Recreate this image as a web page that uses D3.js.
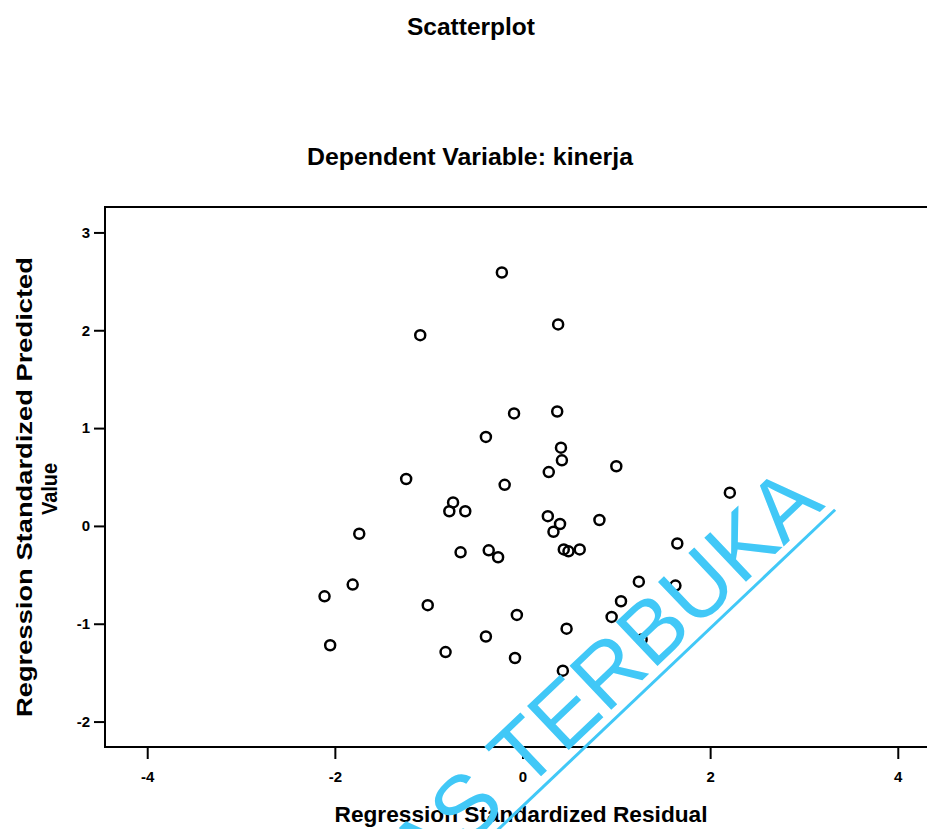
<!DOCTYPE html>
<html>
<head>
<meta charset="utf-8">
<script src="https://cdn.jsdelivr.net/npm/d3@7"></script>
<style>
  body { margin: 0; background: #fff; }
  svg { display: block; font-family: "Liberation Sans", Arial, sans-serif; }
</style>
</head>
<body>
<div id="main"></div>
<script>
// regression standardized residual (x) / standardized predicted value (y)
const residual = [-0.22, 0.38, -1.09, -0.09, 0.37, -0.39, 0.41, 0.42, 1.00, 0.28,
  -1.24, -0.19, -0.74, -0.78, -0.61, 0.27, 0.40, 0.33, 0.82, -1.74,
  -0.66, -0.36, -0.26, 0.44, 0.49, 0.61, -1.81, -2.11, -1.01, -0.06,
  0.47, -0.39, -0.82, -2.05, -0.08, 0.43, 1.05, 0.95, 2.21, 1.65,
  1.24, 1.63, 1.27];
const predicted = [2.59, 2.06, 1.95, 1.15, 1.17, 0.91, 0.80, 0.67, 0.61, 0.55,
  0.48, 0.42, 0.24, 0.15, 0.15, 0.10, 0.02, -0.06, 0.06, -0.08,
  -0.27, -0.25, -0.32, -0.24, -0.26, -0.24, -0.60, -0.72, -0.81, -0.91,
  -1.05, -1.13, -1.29, -1.22, -1.35, -1.48, -0.77, -0.93, 0.34, -0.18,
  -0.57, -0.61, -1.16];
const xTicks = [-4, -2, 0, 2, 4];
const yTicks = [-2, -1, 0, 1, 2, 3];

const title = "Scatterplot";
const subtitle = "Dependent Variable: kinerja";
const xLabel = "Regression Standardized Residual";
const yLabel = ["Regression Standardized Predicted", "Value"];
const watermark = "UNIVERSITAS TERBUKA";

const width = 927;
const height = 829;
const plotLeft = 105, plotRight = 940, plotTop = 207, plotBottom = 747;

const data = residual.map((r, i) => ({ x: r, y: predicted[i] }));

const xScale = d3.scaleLinear().domain([-4.45, 4.45]).range([plotLeft, plotRight]);
const yScale = d3.scaleLinear().domain([-2.26, 3.26]).range([plotBottom, plotTop]);

const svg = d3.select("#main")
  .append("svg")
  .attr("width", width)
  .attr("height", height);

// titles
svg.append("text")
  .attr("x", 471).attr("y", 35)
  .attr("text-anchor", "middle")
  .attr("font-size", 24).attr("font-weight", "bold")
  .attr("textLength", 128).attr("lengthAdjust", "spacingAndGlyphs")
  .text(title);

svg.append("text")
  .attr("x", 470).attr("y", 165)
  .attr("text-anchor", "middle")
  .attr("font-size", 24).attr("font-weight", "bold")
  .attr("textLength", 326).attr("lengthAdjust", "spacingAndGlyphs")
  .text(subtitle);

// frame
svg.append("rect")
  .attr("x", plotLeft).attr("y", plotTop)
  .attr("width", plotRight - plotLeft).attr("height", plotBottom - plotTop)
  .attr("fill", "none").attr("stroke", "#000").attr("stroke-width", 2);

const xAxis = d3.axisBottom(xScale)
  .tickValues(xTicks)
  .tickSize(12)
  .tickPadding(12)
  .tickFormat(d => String(d));

const yAxis = d3.axisLeft(yScale)
  .tickValues(yTicks)
  .tickSize(11)
  .tickPadding(4)
  .tickFormat(d => String(d));

const gx = svg.append("g")
  .attr("transform", "translate(0," + plotBottom + ")")
  .call(xAxis);

const gy = svg.append("g")
  .attr("transform", "translate(" + plotLeft + ",0)")
  .call(yAxis);

[gx, gy].forEach(g => {
  g.select(".domain").remove();
  g.selectAll(".tick line").attr("stroke", "#000").attr("stroke-width", 2);
  g.selectAll(".tick text")
    .attr("fill", "#000")
    .attr("font-size", 15)
    .attr("font-weight", "bold")
    .attr("font-family", "Liberation Sans, Arial, sans-serif");
});

// axis titles
svg.append("text")
  .attr("x", 521).attr("y", 822)
  .attr("text-anchor", "middle")
  .attr("font-size", 22).attr("font-weight", "bold")
  .attr("textLength", 373).attr("lengthAdjust", "spacingAndGlyphs")
  .text(xLabel);

svg.append("text")
  .attr("transform", "translate(32,487) rotate(-90)")
  .attr("text-anchor", "middle")
  .attr("font-size", 22).attr("font-weight", "bold")
  .attr("textLength", 460).attr("lengthAdjust", "spacingAndGlyphs")
  .text(yLabel[0]);

svg.append("text")
  .attr("transform", "translate(57,489) rotate(-90)")
  .attr("text-anchor", "middle")
  .attr("font-size", 22).attr("font-weight", "bold")
  .attr("textLength", 52).attr("lengthAdjust", "spacingAndGlyphs")
  .text(yLabel[1]);

// points
svg.append("g")
  .selectAll("circle")
  .data(data)
  .enter()
  .append("circle")
  .attr("cx", d => xScale(d.x))
  .attr("cy", d => yScale(d.y))
  .attr("r", 5)
  .attr("fill", "none")
  .attr("stroke", "#000")
  .attr("stroke-width", 2.5);

// watermark
const wm = svg.append("g")
  .attr("transform", "translate(826,506) rotate(-43.5)");

wm.append("text")
  .attr("x", 0).attr("y", 0)
  .attr("text-anchor", "end")
  .attr("font-size", 88)
  .attr("fill", "#41c8f7")
  .attr("font-family", "Liberation Sans, Arial, sans-serif")
  .text(watermark);

wm.append("line")
  .attr("x1", -1400).attr("x2", 4)
  .attr("y1", 9).attr("y2", 9)
  .attr("stroke", "#41c8f7")
  .attr("stroke-width", 3);
</script>
</body>
</html>
